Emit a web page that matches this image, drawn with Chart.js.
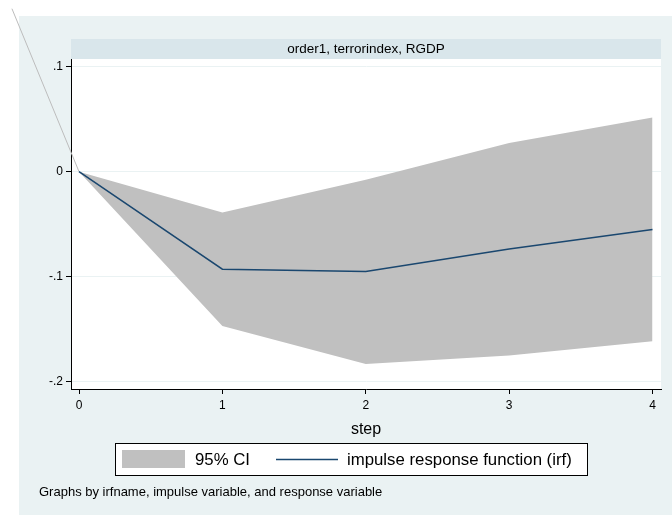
<!DOCTYPE html>
<html>
<head>
<meta charset="utf-8">
<title>order1, terrorindex, RGDP</title>
<script src="https://cdn.jsdelivr.net/npm/chart.js@4"></script>
<style>
    body { margin: 0; background: #fff; }
    canvas { display: block; }
</style>
</head>
<body>
<canvas id="irf-chart" width="672" height="515"></canvas>

<script>
    // values
    const steps = [0, 1, 2, 3, 4]
    const irf = [0, -0.0929, -0.0951, -0.0736, -0.0550]
    const ciLower = [0, -0.1470, -0.1832, -0.1750, -0.1616]
    const ciUpper = [0, -0.0388, -0.0076, 0.0274, 0.0517]

    // the stray grey segment that runs off the top left of the plot
    const strayStep = [-0.4676, 0]
    const strayValue = [0.1552, 0]

    const xTickValues = [0, 1, 2, 3, 4]
    const xTickLabels = ['0', '1', '2', '3', '4']
    const yTickValues = [0.1, 0, -0.1, -0.2]
    const yTickLabels = ['.1', '0', '-.1', '-.2']

    const stripTitle = 'order1, terrorindex, RGDP'
    const xTitle = 'step'
    const note = 'Graphs by irfname, impulse variable, and response variable'

    const toPoints = (xs, ys) => xs.map((x, i) => ({x: x, y: ys[i]}))

    const FONT = '"Liberation Sans", Arial, sans-serif'
    const ciColor = '#c0c0c0'
    const irfColor = '#1a476f'

    const stataFrame = {
        id: 'stataFrame',
        beforeDraw(chart) {
            const ctx = chart.ctx
            const a = chart.chartArea
            ctx.save()
            ctx.fillStyle = '#ffffff'
            ctx.fillRect(0, 0, chart.width, chart.height)
            ctx.fillStyle = '#eaf2f3'
            ctx.fillRect(19, 16, chart.width - 19, chart.height - 16)
            ctx.fillStyle = '#ffffff'
            ctx.fillRect(a.left, a.top, a.right - a.left, a.bottom - a.top)
            // by-group strip
            ctx.fillStyle = '#d9e6eb'
            ctx.fillRect(a.left, 39, a.right - a.left, a.top - 39)
            ctx.fillStyle = '#000'
            ctx.font = '13.5px ' + FONT
            ctx.textAlign = 'center'
            ctx.textBaseline = 'middle'
            ctx.fillText(stripTitle, (a.left + a.right) / 2, 49.5)
            ctx.restore()
        },
        afterDraw(chart) {
            const ctx = chart.ctx
            const ds = chart.data.datasets
            ctx.save()
            // legend box
            ctx.fillStyle = '#ffffff'
            ctx.fillRect(115, 443, 472, 33)
            ctx.strokeStyle = '#000'
            ctx.lineWidth = 1
            ctx.strokeRect(115.5, 443.5, 472, 32)
            ctx.fillStyle = ds[0].backgroundColor
            ctx.fillRect(122, 450, 63, 18)
            ctx.strokeStyle = ds[2].borderColor
            ctx.lineWidth = 1.5
            ctx.beginPath()
            ctx.moveTo(276, 459.5)
            ctx.lineTo(338, 459.5)
            ctx.stroke()
            ctx.fillStyle = '#000'
            ctx.font = '16.8px ' + FONT
            ctx.textAlign = 'left'
            ctx.textBaseline = 'middle'
            ctx.fillText(ds[0].label, 195, 460)
            ctx.fillText(ds[2].label, 347, 460)
            // note
            ctx.font = '13px ' + FONT
            ctx.fillText(note, 39, 492)
            ctx.restore()
        }
    }

    const config = {
        type: 'line',
        data: {
            datasets: [{
                label: '95% CI',
                data: toPoints(steps, ciUpper),
                backgroundColor: ciColor,
                borderWidth: 0,
                pointRadius: 0,
                fill: '+1',
                order: 2
            }, {
                label: 'lower',
                data: toPoints(steps, ciLower),
                backgroundColor: ciColor,
                borderWidth: 0,
                pointRadius: 0,
                fill: false,
                order: 2
            }, {
                label: 'impulse response function (irf)',
                data: toPoints(steps, irf),
                borderColor: irfColor,
                borderWidth: 1.5,
                pointRadius: 0,
                fill: false,
                order: 0
            }, {
                label: 'stray',
                data: toPoints(strayStep, strayValue),
                borderColor: '#bdbdbd',
                borderWidth: 1,
                pointRadius: 0,
                fill: false,
                clip: false,
                order: 1
            }]
        },
        options: {
            responsive: false,
            animation: false,
            events: [],
            layout: {
                padding: {left: 0, top: 59, right: 11, bottom: 0}
            },
            plugins: {
                legend: {display: false},
                tooltip: {enabled: false},
                title: {display: false}
            },
            scales: {
                x: {
                    type: 'linear',
                    min: -0.0558,
                    max: 4.0593,
                    afterBuildTicks: (scale) => {
                        scale.ticks = xTickValues.map(v => ({value: v}))
                    },
                    afterFit: (scale) => { scale.height = 126 },
                    ticks: {
                        autoSkip: false,
                        maxRotation: 0,
                        padding: 4,
                        color: '#000',
                        font: {family: FONT, size: 12},
                        callback: (value, index) => xTickLabels[index]
                    },
                    grid: {
                        drawOnChartArea: false,
                        drawTicks: true,
                        tickLength: 5,
                        tickColor: '#000'
                    },
                    border: {color: '#000', width: 1},
                    title: {
                        display: true,
                        text: xTitle,
                        color: '#000',
                        font: {family: FONT, size: 16},
                        padding: {top: 0, bottom: 76}
                    }
                },
                y: {
                    type: 'linear',
                    min: -0.2070,
                    max: 0.1073,
                    afterBuildTicks: (scale) => {
                        scale.ticks = yTickValues.map(v => ({value: v}))
                    },
                    afterFit: (scale) => { scale.width = 71 },
                    ticks: {
                        padding: 3,
                        color: '#000',
                        font: {family: FONT, size: 12},
                        callback: (value, index) => yTickLabels[index]
                    },
                    grid: {
                        color: '#eaf2f3',
                        lineWidth: 1,
                        drawTicks: true,
                        tickLength: 5,
                        tickColor: '#000'
                    },
                    border: {color: '#000', width: 1}
                }
            }
        },
        plugins: [stataFrame]
    }

    var irfChart = new Chart(document.getElementById('irf-chart'), config)
</script>
</body>
</html>
